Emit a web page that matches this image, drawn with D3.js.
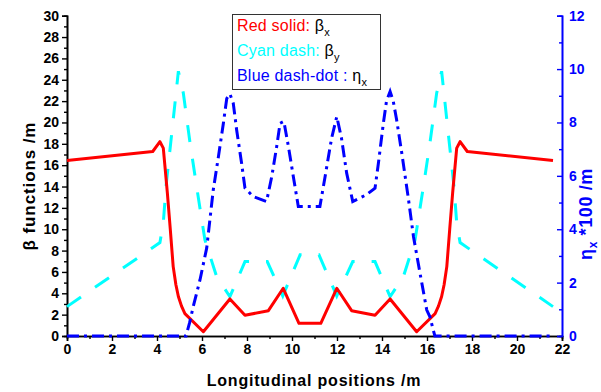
<!DOCTYPE html>
<html><head><meta charset="utf-8">
<script src="https://cdn.jsdelivr.net/npm/d3@7/dist/d3.min.js"></script>
<style>
body{margin:0;background:#fff;}
svg{display:block;font-family:"Liberation Sans",Arial,sans-serif;}
</style></head>
<body><svg id="c" width="601" height="392"></svg>
<script>
// β_x (red solid) : [s (m), β (m)]
const betaX = [[0,16.43],[3.81,17.28],[4.13,18.2],[4.28,17.6],[4.46,13.4],[4.59,10],[4.72,6.5],[4.84,4.8],[4.95,3.7],[5.09,2.8],[5.24,2.1],[6.06,0.4],[7.24,3.47],[7.91,1.94],[8.95,2.37],[9.61,4.47],[10.31,1.19],[11.28,1.19],[11.99,4.47],[12.65,2.37],[13.69,1.94],[14.36,3.47],[15.54,0.4],[16.36,2.1],[16.51,2.8],[16.65,3.7],[16.76,4.8],[16.88,6.5],[17.01,10],[17.14,13.4],[17.32,17.6],[17.47,18.2],[17.79,17.28],[21.6,16.43]];
// β_y (cyan dash)
const betaY = [[0,2.75],[4.13,8.75],[4.28,10.6],[4.4,14],[4.72,20.25],[4.95,24.8],[5.17,22.75],[5.47,18.06],[5.76,14],[6.13,9],[6.65,5.56],[7.24,3.68],[7.91,6.97],[8.9,6.97],[9.59,3.75],[10.36,7.6],[11.2,7.6],[11.99,3.75],[12.7,6.97],[13.69,6.97],[14.36,3.68],[14.95,5.56],[15.47,9],[15.84,14],[16.13,18.06],[16.43,22.75],[16.65,24.8],[16.88,20.25],[17.2,14],[17.32,10.6],[17.47,8.75],[21.6,2.75]];
// η_x*100 (blue dash-dot)
const etaX = [[0,0],[5.29,0],[5.45,0.5],[5.61,1.1],[5.91,2.1],[6.21,3.3],[6.5,5.47],[6.73,6.72],[6.95,7.97],[7.1,8.9],[7.24,9.07],[7.39,8.72],[7.54,7.72],[7.76,6.47],[7.91,5.54],[8.28,5.22],[8.87,5.04],[9.1,5.97],[9.32,7.1],[9.47,7.97],[9.64,8.04],[9.84,7.1],[10.06,5.97],[10.28,4.85],[11.24,4.85],[11.47,5.97],[11.76,7.41],[11.99,8.22],[12.2,7.41],[12.43,6.1],[12.7,5.04],[13.3,5.29],[13.69,5.54],[13.84,6.47],[14.06,7.97],[14.2,8.8],[14.36,9.16],[14.5,8.8],[14.65,8.1],[14.88,6.85],[15.17,5.16],[15.4,3.72],[15.69,2.35],[15.99,0.97],[16.13,0.72],[16.28,0.22],[16.35,0],[21.6,0]];

const xTicks = d3.range(0,23,2);
const xMinor = d3.range(1,22,2);
const yLTicks = d3.range(0,31,2);
const yLMinor = d3.range(1,30,2);
const yRTicks = d3.range(0,13,2);
const yRMinor = d3.range(1,12,2);

const svg = d3.select("#c");
const x = d3.scaleLinear().domain([0,22]).range([67,562]);
const yL = d3.scaleLinear().domain([0,30]).range([336,15.7]);
const yR = d3.scaleLinear().domain([0,12]).range([336,15.7]);

function style(g,color){
  g.selectAll("path.domain").attr("stroke",color).attr("stroke-width",1.6);
  g.selectAll("line").attr("stroke",color).attr("stroke-width",1.4);
  g.selectAll("text").attr("fill",color).attr("font-size",14).attr("font-weight","bold")
   .attr("font-family",'"Liberation Sans",Arial,sans-serif');
}
// minor ticks
const gxm = svg.append("g").attr("transform","translate(0,336)")
 .call(d3.axisBottom(x).tickValues(xMinor).tickSize(3).tickFormat(""));
style(gxm,"#000");
const gylm = svg.append("g").attr("transform","translate(67,0)")
 .call(d3.axisLeft(yL).tickValues(yLMinor).tickSize(3).tickFormat(""));
style(gylm,"#000");
const gyrm = svg.append("g").attr("transform","translate(562,0)")
 .call(d3.axisRight(yR).tickValues(yRMinor).tickSize(-3).tickFormat(""));
style(gyrm,"#0000ff");
// major
const gx = svg.append("g").attr("transform","translate(0,336)")
 .call(d3.axisBottom(x).tickValues(xTicks).tickSize(5).tickPadding(3).tickFormat(d3.format("d")));
style(gx,"#000");
const gyl = svg.append("g").attr("transform","translate(67,0)")
 .call(d3.axisLeft(yL).tickValues(yLTicks).tickSize(5).tickPadding(3).tickFormat(d3.format("d")));
style(gyl,"#000");
const gyr = svg.append("g").attr("transform","translate(562,0)")
 .call(d3.axisRight(yR).tickValues(yRTicks).tickSize(-5).tickPadding(7).tickFormat(d3.format("d")));
style(gyr,"#0000ff");

// curves
const lineL = d3.line().x(d=>x(d[0])).y(d=>yL(d[1]));
const lineR = d3.line().x(d=>x(d[0])).y(d=>yR(d[1]));
svg.append("path").datum(betaY).attr("d",lineL).attr("fill","none")
 .attr("stroke","#00ffff").attr("stroke-width",3).attr("stroke-dasharray","17,17");
svg.append("path").datum(betaX).attr("d",lineL).attr("fill","none")
 .attr("stroke","#ff0000").attr("stroke-width",3).attr("stroke-linejoin","round");
svg.append("path").datum(etaX).attr("d",lineR).attr("fill","none")
 .attr("stroke","#0000ff").attr("stroke-width",3).attr("stroke-dasharray","12,5,3,5");

// axis titles
svg.append("text").attr("x",314).attr("y",386).attr("text-anchor","middle")
 .attr("font-size",16).attr("font-weight","bold").attr("letter-spacing",0.8)
 .text("Longitudinal positions /m");
svg.append("text").attr("transform","translate(35,186) rotate(-90)").attr("text-anchor","middle")
 .attr("font-size",17).attr("font-weight","bold").attr("letter-spacing",0.9)
 .text("β functions /m");
const rt = svg.append("text").attr("transform","translate(592,214) rotate(-90)").attr("text-anchor","middle")
 .attr("font-size",18).attr("font-weight","bold").attr("fill","#0000ff").attr("letter-spacing",0.6);
rt.append("tspan").text("η");
rt.append("tspan").attr("font-size",12).attr("dy",5).text("x");
rt.append("tspan").attr("dy",-5).text(" *100 /m");

// legend
svg.append("rect").attr("x",232.5).attr("y",14.5).attr("width",148).attr("height",75)
 .attr("fill","#fff").attr("stroke","#333").attr("stroke-width",1);
const leg = [["Red solid: ","#ff0000","β","x",31],["Cyan dash: ","#00ffff","β","y",56],["Blue dash-dot : ","#0000ff","η","x",81]];
leg.forEach(l=>{
  const t = svg.append("text").attr("x",237).attr("y",l[4]).attr("font-size",16).attr("letter-spacing",0.2);
  t.append("tspan").attr("fill",l[1]).text(l[0]);
  t.append("tspan").attr("fill","#000").text(l[2]);
  t.append("tspan").attr("fill","#000").attr("font-size",11).attr("dy",5).text(l[3]);
});
</script></body></html>
